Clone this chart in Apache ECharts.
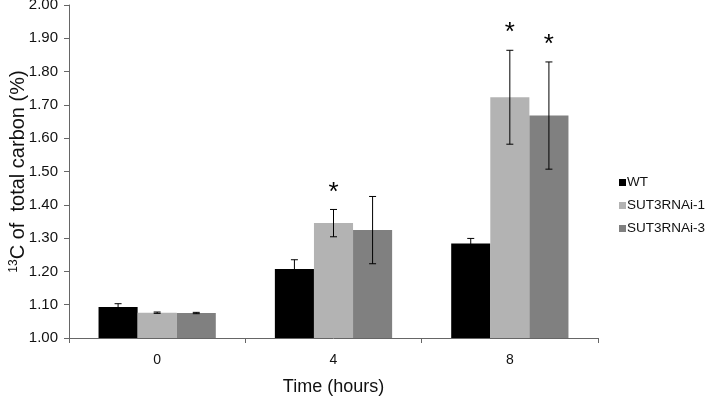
<!DOCTYPE html>
<html><head><meta charset="utf-8">
<script src="https://cdn.jsdelivr.net/npm/echarts@6/dist/echarts.min.js"></script>
<style>html,body{margin:0;padding:0;background:#fff}#c{width:714px;height:402px}</style>
</head><body><div id="c"></div>
<script>
const categories = ['0', '4', '8'];
const seriesNames = ['WT', 'SUT3RNAi-1', 'SUT3RNAi-3'];
const wtValues = [1.093, 1.207, 1.284];
const sut1Values = [1.076, 1.345, 1.723];
const sut3Values = [1.075, 1.324, 1.668];
const wtErr = [0.010, 0.028, 0.015];
const sut1Err = [0.002, 0.041, 0.141];
const sut3Err = [0.002, 0.101, 0.161];
const sut1Sig = [false, true, true];
const sut3Sig = [false, false, true];
const yTicks = ['1.00','1.10','1.20','1.30','1.40','1.50','1.60','1.70','1.80','1.90','2.00'];

const colors = ['#000000', '#b3b3b3', '#808080'];
const values = [wtValues, sut1Values, sut3Values];
const errs = [wtErr, sut1Err, sut3Err];
const sigs = [[false,false,false], sut1Sig, sut3Sig];
const gapFrac = 0.335;
const font = 'Liberation Sans, Arial, Helvetica, sans-serif';

const errData = [];
const starData = [];
for (let s = 0; s < 3; s++) {
  for (let c = 0; c < categories.length; c++) {
    errData.push([c, values[s][c], errs[s][c], s]);
    if (sigs[s][c]) starData.push([c, values[s][c] + errs[s][c], s]);
  }
}
function xPos(api, c, s) {
  const center = api.coord([c, 1])[0];
  const band = api.size([1, 0])[0];
  const bw = band * (1 - gapFrac) / 3;
  return center + (s - 1) * bw;
}

const chart = echarts.init(document.getElementById('c'));
chart.setOption({
  animation: false,
  textStyle: { fontFamily: font },
  grid: { left: 69, right: 116, top: 5, bottom: 64, containLabel: false, outerBoundsMode: 'none' },
  legend: {
    data: seriesNames,
    orient: 'vertical',
    left: 614, top: 170,
    itemWidth: 7, itemHeight: 7, itemGap: 8,
    icon: 'rect',
    textStyle: { fontSize: 13.5, color: '#111', fontFamily: font, padding: [0, 0, 0, -4], height: 15, lineHeight: 15 }
  },
  xAxis: {
    type: 'category',
    data: categories,
    axisLine: { lineStyle: { color: '#666', width: 1 } },
    axisTick: { show: true, alignWithLabel: false, length: 5, lineStyle: { color: '#666' } },
    axisLabel: { fontSize: 14, color: '#111', margin: 15 },
    name: 'Time (hours)',
    nameLocation: 'middle',
    nameGap: 40,
    nameMoveOverlap: false,
    nameTextStyle: { fontSize: 18, color: '#111' }
  },
  yAxis: {
    type: 'value',
    min: 1.0, max: 2.0, interval: 0.1,
    axisLine: { show: true, lineStyle: { color: '#666', width: 1 } },
    axisTick: { show: true, length: 5, lineStyle: { color: '#666' } },
    splitLine: { show: false },
    axisLabel: {
      fontSize: 15, color: '#111', margin: 11,
      formatter: function (v) { const i = Math.round((v - 1) * 10); return yTicks[i]; }
    },
    name: '{sup|13}{n|C of  total carbon (%)}',
    nameLocation: 'middle',
    nameGap: 41,
    nameMoveOverlap: false,
    nameTextStyle: {
      rich: {
        sup: { fontSize: 12, color: '#111', verticalAlign: 'top', padding: [0, 0, 8, 0], fontFamily: font },
        n: { fontSize: 20, color: '#111', fontFamily: font }
      }
    }
  },
  series: [
    ...seriesNames.map((n, i) => ({
      name: n, type: 'bar', data: values[i],
      itemStyle: { color: colors[i] },
      barGap: '0%', barCategoryGap: (gapFrac * 100) + '%'
    })),
    {
      type: 'custom', name: 'err', data: errData, z: 10,
      renderItem: function (params, api) {
        const c = api.value(0), v = api.value(1), e = api.value(2), s = api.value(3);
        const x = xPos(api, c, s);
        const yt = api.coord([c, v + e])[1];
        const yb = api.coord([c, v - e])[1];
        const hw = 3.5;
        const st = { stroke: '#000', lineWidth: 1 };
        return { type: 'group', children: [
          { type: 'line', shape: { x1: x, y1: yt, x2: x, y2: yb }, style: st },
          { type: 'line', shape: { x1: x - hw, y1: yt, x2: x + hw, y2: yt }, style: st },
          { type: 'line', shape: { x1: x - hw, y1: yb, x2: x + hw, y2: yb }, style: st }
        ]};
      }
    },
    {
      type: 'custom', name: 'sig', data: starData, z: 10,
      renderItem: function (params, api) {
        const c = api.value(0), top = api.value(1), s = api.value(2);
        const x = xPos(api, c, s);
        const y = api.coord([c, top])[1];
        return { type: 'text', style: { x: x, y: y - 4, text: '*', fontSize: 26, fontFamily: font, fill: '#000', align: 'center', verticalAlign: 'bottom' } };
      }
    }
  ]
});
</script></body></html>
